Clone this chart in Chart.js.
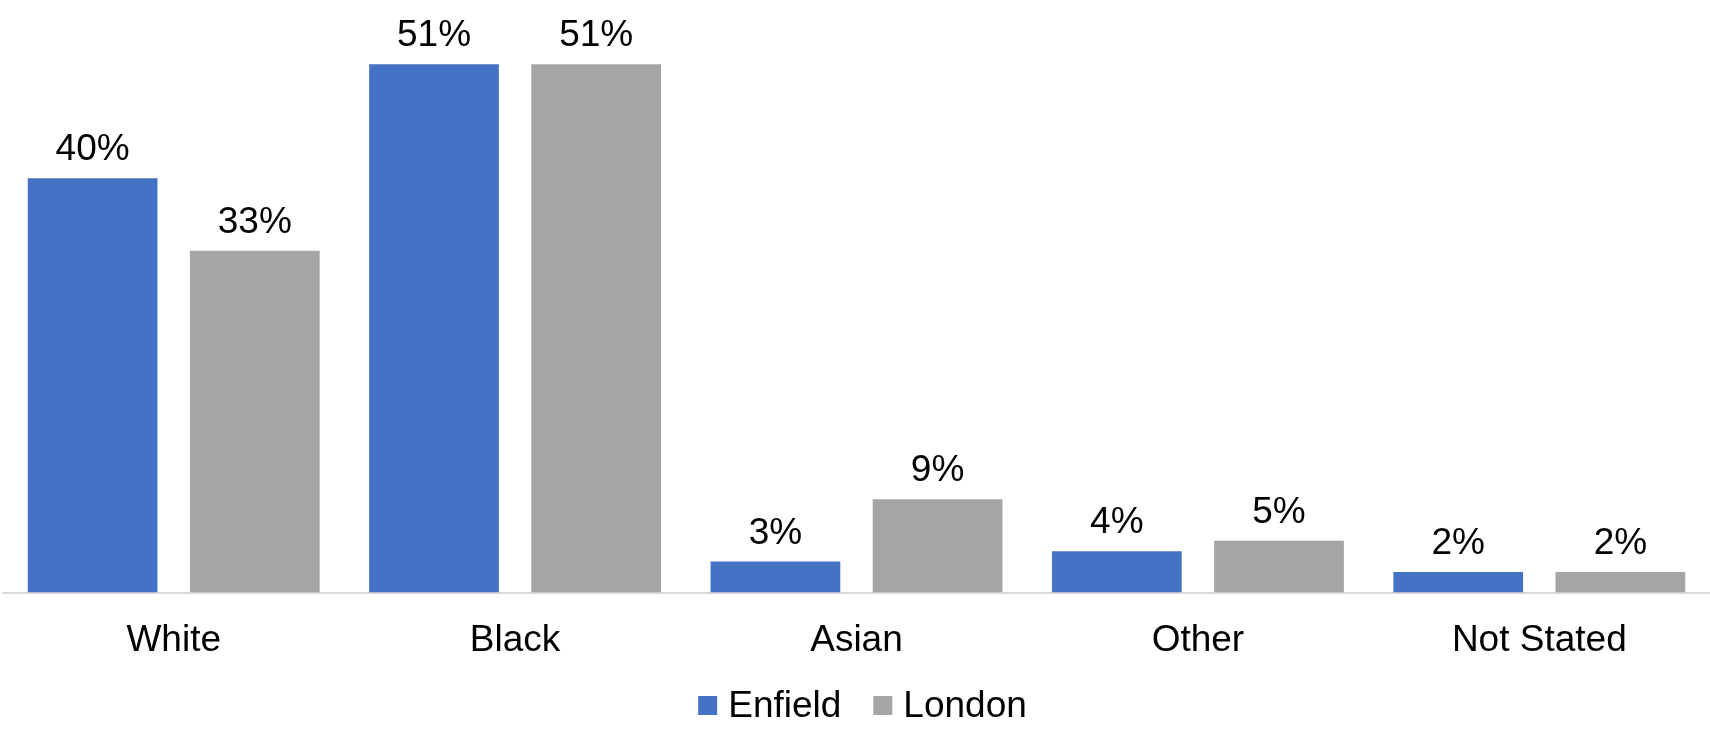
<!DOCTYPE html>
<html>
<head>
<meta charset="utf-8">
<script src="https://cdn.jsdelivr.net/npm/chart.js@4/dist/chart.umd.min.js"></script>
<style>
    html, body { margin: 0; padding: 0; background: #fff; }
    #wrap { width: 1710px; height: 729px; position: relative; }
</style>
</head>
<body>
<div id="wrap"><canvas id="grafica"></canvas></div>
<script>
const categorias = ['White', 'Black', 'Asian', 'Other', 'Not Stated'];
const enfield = [40, 51, 3, 4, 2];
const london = [33, 51, 9, 5, 2];

const fuente = '"Liberation Sans", Arial, sans-serif';

// etiqueta de valor encima de cada barra
const etiquetasValor = {
    id: 'etiquetasValor',
    afterDatasetsDraw(chart) {
        const ctx = chart.ctx;
        ctx.save();
        ctx.font = '37px ' + fuente;
        ctx.fillStyle = '#000';
        ctx.textAlign = 'center';
        ctx.textBaseline = 'alphabetic';
        chart.data.datasets.forEach((ds, i) => {
            chart.getDatasetMeta(i).data.forEach((barra, j) => {
                ctx.fillText(ds.data[j] + '%', barra.x, barra.y - 18);
            });
        });
        ctx.restore();
    }
};

// leyenda propia: cuadro pequeño + texto, centrada bajo el gráfico
const leyenda = {
    id: 'leyenda',
    afterDraw(chart) {
        const ctx = chart.ctx;
        const caja = 19, sepTexto = 11, sepItems = 32;
        ctx.save();
        ctx.font = '37px ' + fuente;
        ctx.textBaseline = 'alphabetic';
        const items = chart.data.datasets.map(ds => ({
            texto: ds.label,
            color: ds.backgroundColor,
            ancho: ctx.measureText(ds.label).width
        }));
        const total = items.reduce((s, it) => s + caja + sepTexto + it.ancho, 0) + sepItems * (items.length - 1);
        const centro = (chart.chartArea.left + chart.chartArea.right) / 2 + 6;
        let x = centro - total / 2;
        const base = 717;
        items.forEach(it => {
            ctx.fillStyle = it.color;
            ctx.fillRect(x, base - 21, caja, caja);
            ctx.fillStyle = '#000';
            ctx.fillText(it.texto, x + caja + sepTexto, base);
            x += caja + sepTexto + it.ancho + sepItems;
        });
        ctx.restore();
    }
};

new Chart(document.getElementById('grafica').getContext('2d'), {
    type: 'bar',
    data: {
        labels: categorias,
        datasets: [
            { label: 'Enfield', data: enfield, backgroundColor: '#4472C4' },
            { label: 'London', data: london, backgroundColor: '#A5A5A5' }
        ]
    },
    options: {
        responsive: true,
        maintainAspectRatio: false,
        animation: false,
        layout: { padding: { left: 3, right: 0, top: 0, bottom: 40 } },
        datasets: {
            bar: { categoryPercentage: 0.95, barPercentage: 0.8 }
        },
        scales: {
            x: {
                grid: { display: false, drawTicks: false },
                border: { display: true, color: '#D9D9D9', width: 2 },
                ticks: { color: '#000', font: { family: fuente, size: 37 }, padding: 26 }
            },
            y: {
                display: false,
                min: 0,
                max: 57.2
            }
        },
        plugins: {
            legend: { display: false },
            tooltip: { enabled: false }
        }
    },
    plugins: [etiquetasValor, leyenda]
});
</script>
</body>
</html>
